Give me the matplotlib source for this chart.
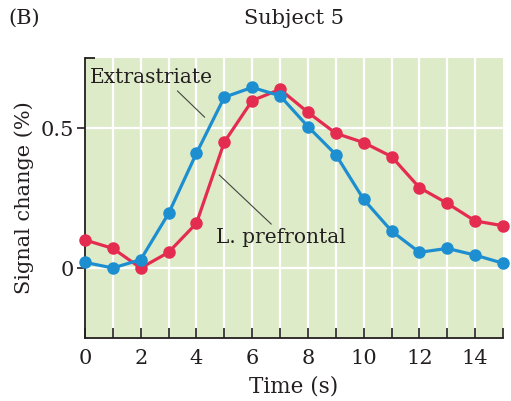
import matplotlib
matplotlib.use("Agg")
import matplotlib.pyplot as plt

# data (signal change in %)
time_s = list(range(16))
extrastriate = [0.02, 0.0, 0.03, 0.195, 0.41, 0.61, 0.645, 0.615, 0.505, 0.405,
                0.245, 0.132, 0.056, 0.07, 0.046, 0.017]
prefrontal = [0.10, 0.07, 0.0, 0.056, 0.16, 0.45, 0.598, 0.638, 0.556, 0.481,
              0.448, 0.398, 0.287, 0.231, 0.168, 0.151]
xtick_vals = [0, 2, 4, 6, 8, 10, 12, 14]
ytick_vals = [0, 0.5]
ytick_labels = ["0", "0.5"]

plt.rcParams['font.family'] = ['DejaVu Serif']
txt = '#231f20'
blue = '#1d8fd1'
red = '#e42c51'

fig = plt.figure(figsize=(5.11, 4.01), dpi=100)
ax = fig.add_axes([85/511, 63/401, 418/511, 280/401])
ax.set_facecolor('#deebc8')

ax.set_xlim(0, 15)
ax.set_ylim(-0.25, 0.75)

# white grid
for x in range(1, 15):
    ax.axvline(x, color='white', lw=1.6, zorder=1)
for y in ytick_vals:
    ax.axhline(y, color='white', lw=1.6, zorder=1)

ax.plot(time_s, prefrontal, color=red, lw=2.3, marker='o', ms=8,
        clip_on=False, zorder=3)
ax.plot(time_s, extrastriate, color=blue, lw=2.3, marker='o', ms=8,
        clip_on=False, zorder=4)

for s in ['top', 'right']:
    ax.spines[s].set_visible(False)
for s in ['left', 'bottom']:
    ax.spines[s].set_color(txt)
    ax.spines[s].set_linewidth(1.3)
# little bracket at top of y axis
ax.plot([0, 0.35], [0.75, 0.75], color=txt, lw=1.3, clip_on=False,
        solid_capstyle='butt', zorder=5)

ax.set_xticks(range(16))
ax.set_xticklabels([str(v) if v in xtick_vals else '' for v in range(16)],
                   fontsize=15, color=txt)
ax.tick_params(axis='x', direction='in', length=7, width=1.2, pad=8, colors=txt)
ax.set_yticks(ytick_vals)
ax.set_yticklabels(ytick_labels, fontsize=15, color=txt)
ax.tick_params(axis='y', direction='out', length=6, width=1.2, pad=2, colors=txt)

ax.set_xlabel('Time (s)', fontsize=15.5, color=txt, labelpad=5)
ax.set_ylabel('Signal change (%)', fontsize=15, color=txt, labelpad=5)

# labels with leader lines
ax.text(0.18, 0.682, 'Extrastriate', fontsize=14.5, color=txt, va='center',
        ha='left', zorder=6)
ax.plot([3.32, 4.29], [0.632, 0.539], color='#444444', lw=0.8, zorder=6)
ax.text(4.71, 0.11, 'L. prefrontal', fontsize=14.5, color=txt, va='center',
        ha='left', zorder=6)
ax.plot([4.82, 6.68], [0.332, 0.157], color='#444444', lw=0.8, zorder=6)

fig.text(294/511, 1 - 18/401, 'Subject 5', fontsize=15, color=txt,
         ha='center', va='center')
fig.text(8/511, 1 - 18/401, '(B)', fontsize=15, color=txt,
         ha='left', va='center')

fig.savefig('out.png', dpi=100)
